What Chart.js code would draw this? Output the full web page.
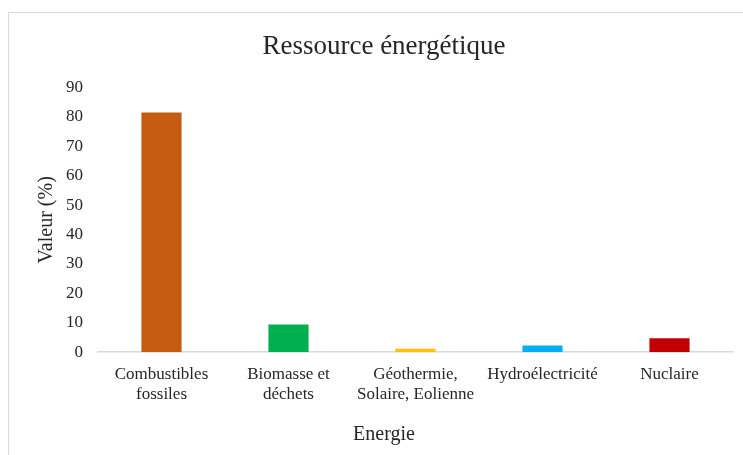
<!DOCTYPE html>
<html>
<head>
<meta charset="utf-8">
<script src="https://cdn.jsdelivr.net/npm/chart.js@4"></script>
<style>
  html, body { margin: 0; padding: 0; background: #fff; overflow: hidden; }
  #box {
    position: absolute; left: 8px; top: 12px;
    width: 750px; height: 450px;
    border: 1px solid #d9d9d9; background: #fff;
  }
</style>
</head>
<body>
<div id="box"><canvas id="energyChart" width="750" height="450"></canvas></div>
<script>
const categories = [
  ['Combustibles', 'fossiles'],
  ['Biomasse et', 'déchets'],
  ['Géothermie,', 'Solaire, Eolienne'],
  'Hydroélectricité',
  'Nuclaire'
];
const values = [81.5, 9.4, 1.2, 2.3, 4.7];
const barColors = ['#C55A11', '#00B050', '#FFC000', '#00B0F0', '#C00000'];
const yTicks = [0, 10, 20, 30, 40, 50, 60, 70, 80, 90];

const serif = "'Liberation Serif', 'DejaVu Serif', serif";
const textColor = '#262626';

const data = {
  labels: categories,
  datasets: [{
    label: 'Valeur (%)',
    data: values,
    backgroundColor: barColors,
    borderWidth: 0,
    barPercentage: 0.316,
    categoryPercentage: 1
  }]
};

const config = {
  type: 'bar',
  data,
  options: {
    responsive: false,
    animation: false,
    layout: { padding: { left: 26, right: 26, top: 0, bottom: 16 } },
    plugins: {
      legend: { display: false },
      tooltip: { enabled: false },
      title: {
        display: true,
        text: 'Ressource énergétique',
        color: textColor,
        font: { family: serif, size: 27, weight: 'normal' },
        padding: { top: 18, bottom: 24 }
      },
      subtitle: {
        display: true,
        position: 'bottom',
        text: 'Energie',
        color: textColor,
        font: { family: serif, size: 20, weight: 'normal' },
        padding: { top: 6, bottom: 0 }
      }
    },
    scales: {
      x: {
        grid: { display: false, drawTicks: false },
        border: { display: true, color: '#d9d9d9', width: 1.5 },
        ticks: {
          color: textColor,
          font: { family: serif, size: 17 },
          maxRotation: 0,
          autoSkip: false,
          padding: 12
        }
      },
      y: {
        min: 0,
        max: 90,
        afterBuildTicks: axis => { axis.ticks = yTicks.map(v => ({ value: v })); },
        afterFit: axis => { axis.width = 63; },
        grid: { display: false, drawTicks: false },
        border: { display: false },
        ticks: {
          color: textColor,
          font: { family: serif, size: 17 },
          padding: 15
        },
        title: {
          display: true,
          text: 'Valeur (%)',
          color: textColor,
          font: { family: serif, size: 20, weight: 'normal' },
          padding: { top: 0, bottom: 7 }
        }
      }
    }
  }
};

const energyChart = new Chart(document.getElementById('energyChart'), config);
</script>
</body>
</html>
